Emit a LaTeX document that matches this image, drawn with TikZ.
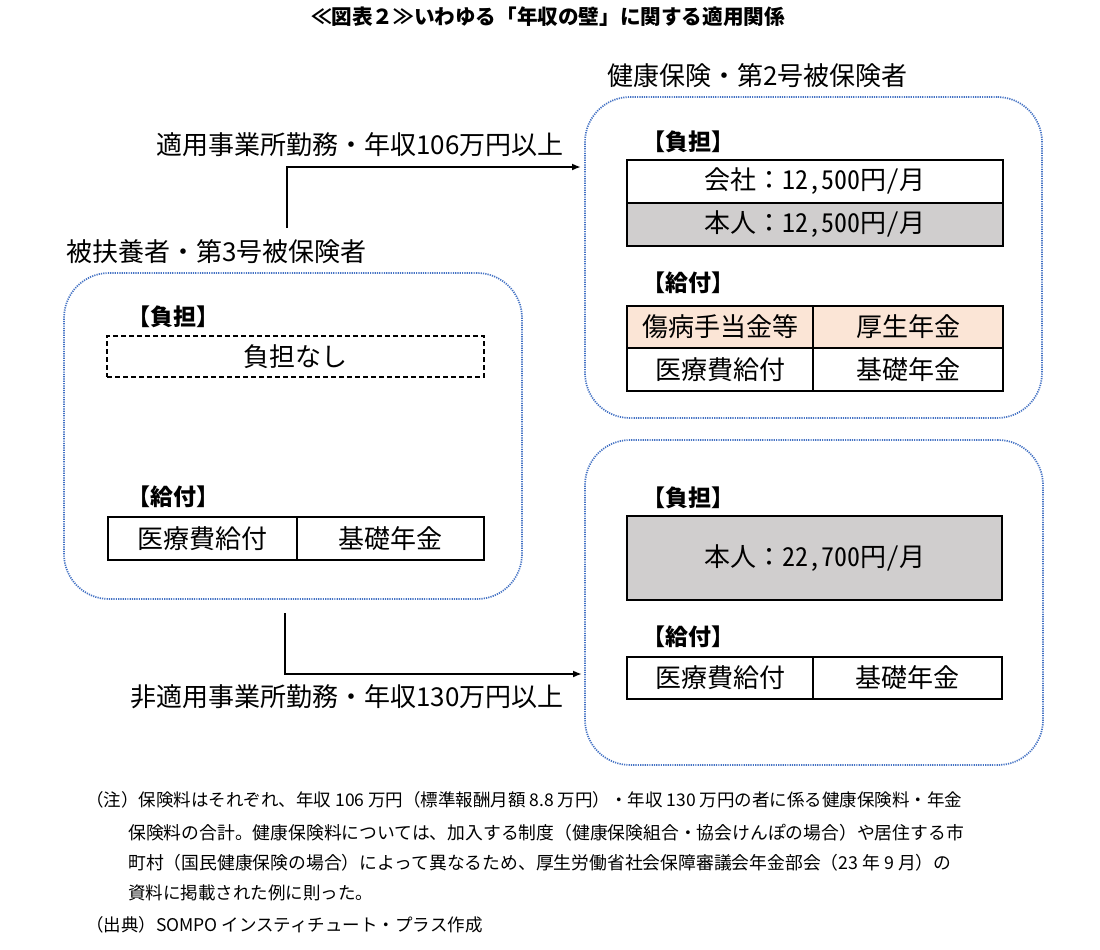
\documentclass[tikz,border=0pt]{standalone}
\usepackage{fontspec}
\usetikzlibrary{arrows.meta}
\setmainfont{Noto Sans CJK JP}
\newfontfamily\jp{Noto Sans CJK JP}
\newfontfamily\jpm[RawFeature=+hwid]{Noto Sans CJK JP}
\newcommand\fwcolon{{\jp ：}}
\definecolor{dotblue}{RGB}{68,114,196}
\definecolor{cellgray}{RGB}{208,206,206}
\definecolor{peach}{RGB}{251,229,214}
\tikzset{
  bigbox/.style={draw=dotblue, line width=1.7pt, dash pattern=on 1.2pt off 1.1pt, rounded corners=45pt, inner sep=0pt},
  cell/.style={draw=black, line width=1.8pt, inner sep=0pt, font=\jpm\fontsize{26}{30}\selectfont},
  hdr/.style={anchor=west, inner sep=0pt, font=\jp\bfseries\fontsize{23}{27}\selectfont},
  lbl/.style={inner sep=0pt, font=\jp\fontsize{26}{30}\selectfont},
  note/.style={anchor=west, inner sep=0pt, font=\jp\fontsize{17.5}{20}\selectfont},
  arr/.style={line width=1.8pt, -{Latex[length=9pt,width=7pt]}}
}
\begin{document}
\begin{tikzpicture}[x=1pt,y=-1pt]
\useasboundingbox[fill=white] (0,0) rectangle (1100,950);
% title
\node[inner sep=0pt, font=\jp\bfseries\fontsize{20.6}{24}\selectfont] (title) at (548,17) {≪図表２≫いわゆる「年収の壁」に関する適用関係};
% big boxes
\node[bigbox, minimum width=457, minimum height=321] (R1) at (813.5,257.5) {};
\node[bigbox, minimum width=458, minimum height=326] (L) at (293,436) {};
\node[bigbox, minimum width=458, minimum height=325] (R2) at (814,602.5) {};
% group labels
\node[lbl, anchor=west] (r1lbl) at (607,76) {健康保険・第2号被保険者};
\node[lbl, anchor=west] (llbl) at (66,252) {被扶養者・第3号被保険者};
% top right box
\node[hdr] (r1h1) at (642,142) {【負担】};
\node[cell, minimum width=376, minimum height=43] (r1a) at (815,181.5) {会社\fwcolon 12,500円/月};
\node[cell, fill=cellgray, minimum width=376, minimum height=43] (r1b) at (815,224.5) {本人\fwcolon 12,500円/月};
\node[hdr] (r1h2) at (642,283) {【給付】};
\node[cell, fill=peach, minimum width=186, minimum height=42] (r1c) at (720,327) {傷病手当金等};
\node[cell, fill=peach, minimum width=190, minimum height=42] (r1d) at (908,327) {厚生年金};
\node[cell, minimum width=186, minimum height=43] (r1e) at (720,369.5) {医療費給付};
\node[cell, minimum width=190, minimum height=43] (r1f) at (908,369.5) {基礎年金};
% left box
\node[hdr] (lh1) at (127,317) {【負担】};
\node[cell, dashed, line width=1.5pt, dash pattern=on 5pt off 3pt, minimum width=377, minimum height=41] (lnone) at (295.5,356.5) {負担なし};
\node[hdr] (lh2) at (127,497) {【給付】};
\node[cell, minimum width=189, minimum height=43] (la) at (202.5,538.5) {医療費給付};
\node[cell, minimum width=187, minimum height=43] (lb) at (390.5,538.5) {基礎年金};
% bottom right box
\node[hdr] (r2h1) at (642,498) {【負担】};
\node[cell, fill=cellgray, minimum width=375, minimum height=84] (r2a) at (814.5,558) {本人\fwcolon 22,700円/月};
\node[hdr] (r2h2) at (642,637) {【給付】};
\node[cell, minimum width=186, minimum height=42] (r2b) at (720,678) {医療費給付};
\node[cell, minimum width=189, minimum height=42] (r2c) at (907.5,678) {基礎年金};
% arrows
\coordinate (t0) at (287,228);
\coordinate (t1) at (581,167);
\draw[arr] (t0) |- (t1);
\node[lbl] (tlbl) at (360,145) {適用事業所勤務・年収106万円以上};
\coordinate (b0) at (285,613);
\coordinate (b1) at (582,674);
\draw[arr] (b0) |- (b1);
\node[lbl] (blbl) at (347,697) {非適用事業所勤務・年収130万円以上};
% notes
\node[note] (n1) at (86,800) {（注）保険料はそれぞれ、年収 106 万円（標準報酬月額 8.8 万円）・年収 130 万円の者に係る健康保険料・年金};
\node[note, font=\jp\fontsize{17.8}{20}\selectfont] (n2) at (128,833) {保険料の合計。健康保険料については、加入する制度（健康保険組合・協会けんぽの場合）や居住する市};
\node[note, font=\jp\fontsize{17.8}{20}\selectfont] (n3) at (128,863) {町村（国民健康保険の場合）によって異なるため、厚生労働省社会保障審議会年金部会（23 年 9 月）の};
\node[note] (n4) at (128,893) {資料に掲載された例に則った。};
\node[note] (n5) at (86,925) {（出典）SOMPO インスティチュート・プラス作成};
\end{tikzpicture}
\end{document}
